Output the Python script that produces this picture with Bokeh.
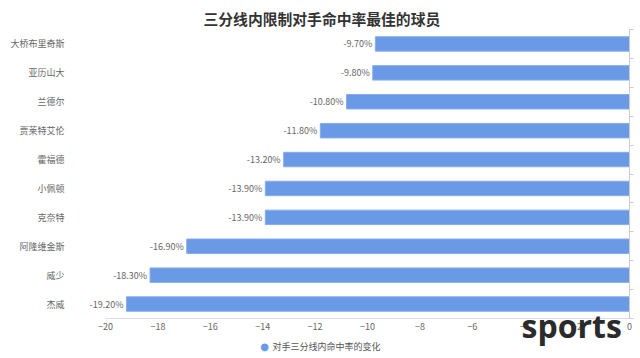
from bokeh.plotting import figure
from bokeh.models import ColumnDataSource, Range1d, LinearAxis, FixedTicker
from bokeh.core.properties import value
from bokeh.embed import file_html
from bokeh.resources import INLINE

players = ["大桥布里奇斯", "亚历山大", "兰德尔", "贾莱特艾伦", "霍福德",
           "小佩顿", "克奈特", "阿隆维金斯", "威少", "杰威"]
changes = [-9.7, -9.8, -10.8, -11.8, -13.2, -13.9, -13.9, -16.9, -18.3, -19.2]
x_ticks = [-20, -18, -16, -14, -12, -10, -8, -6, -4, -2, 0]
title_text = "三分线内限制对手命中率最佳的球员"
series_name = "对手三分线内命中率的变化"
watermark = "sports"

CJK = "Noto Sans CJK SC"
BAR = "#6a99e5"

W, H = 636, 356
BL, BR, BT, BB = 105, 7, 29, 38
X0, X1 = -20, 0
n = len(players)
FW, FH = W - BL - BR, H - BT - BB
px_x = FW / (X1 - X0)      # pixels per x unit
px_y = FH / n              # pixels per y unit


def dx(px):  # pixel distance from frame left -> data x
    return X0 + px / px_x


def dy(px):  # pixel distance below frame bottom -> data y
    return -px / px_y


ypos = [n - 1 - i + 0.5 for i in range(n)]  # band centres, first player on top

src = ColumnDataSource(dict(
    name=players,
    y=ypos,
    val=changes,
    zero=[0] * n,
    lab=["%.2f%%" % v for v in changes],
))

p = figure(width=W, height=H, output_backend="svg", toolbar_location=None,
           y_range=Range1d(0, n), x_range=Range1d(X0, X1),
           min_border_left=BL, min_border_right=BR, min_border_top=BT, min_border_bottom=BB)
p.outline_line_color = None
p.xgrid.visible = False
p.ygrid.visible = False
p.background_fill_color = "white"
p.border_fill_color = "white"

# title
p.title.text = title_text
p.title.align = "left"
p.title.offset = 98
p.title.standoff = 0
p.title.vertical_align = "middle"
p.title.text_font = CJK
p.title.text_font_size = "14.8px"
p.title.text_font_style = "bold"
p.title.text_color = "#333333"

bars = p.hbar(y="y", left="val", right="zero", height=0.5, source=src,
              fill_color=BAR, line_color="#86adeb", line_width=1)

p.text(x="val", y="y", text="lab", source=src, x_offset=-3,
       text_align="right", text_baseline="middle", text_font=value(CJK),
       text_font_size="9px", text_color="#666666", level="overlay")

# x axis
xa = p.xaxis[0]
xa.ticker = FixedTicker(ticks=x_ticks)
xa.axis_line_color = "#dddddd"
xa.major_tick_line_color = None
xa.major_tick_out = 0
xa.major_tick_in = 0
xa.minor_tick_line_color = None
xa.major_label_standoff = 4
xa.major_label_text_font = CJK
xa.major_label_text_font_size = "9px"
xa.major_label_text_color = "#666666"

# category labels on the left
ya = p.yaxis[0]
ya.ticker = FixedTicker(ticks=ypos)
ya.major_label_overrides = {y: name for y, name in zip(ypos, players)}
ya.axis_line_color = None
ya.major_tick_line_color = None
ya.major_tick_out = 0
ya.major_tick_in = 0
ya.minor_tick_line_color = None
ya.major_label_standoff = 41
ya.major_label_text_font = CJK
ya.major_label_text_font_size = "9px"
ya.major_label_text_color = "#666666"

# axis line at x = 0 with ticks between categories
bounds = list(range(n + 1))
ra = LinearAxis(ticker=FixedTicker(ticks=bounds))
ra.major_label_overrides = {b: "" for b in bounds}
ra.axis_line_color = "#cccccc"
ra.major_tick_line_color = "#cccccc"
ra.major_tick_out = 4
ra.major_tick_in = 0
ra.minor_tick_line_color = None
ra.major_label_standoff = 0
p.add_layout(ra, "right")

# legend entry below the axis
p.text(x=[dx(159)], y=[dy(28.2)], text=["●"], text_align="center",
       text_baseline="middle", text_font=value("DejaVu Sans"), text_font_size="10px",
       text_color=BAR, level="overlay")
p.text(x=[dx(167)], y=[dy(28.4)], text=[series_name], text_align="left",
       text_baseline="middle", text_font=value(CJK), text_font_size="9px",
       text_color="#555555", level="overlay")

# watermark over the lower right corner
p.text(x=[dx(416)], y=[dy(6.7)], text=[watermark], text_align="left",
       text_baseline="alphabetic", text_font=value("Open Sans"),
       text_font_size="32px", text_font_style="bold", text_color="#2b2b2b",
       level="overlay")

open("out.html", "w").write(file_html(p, INLINE))
